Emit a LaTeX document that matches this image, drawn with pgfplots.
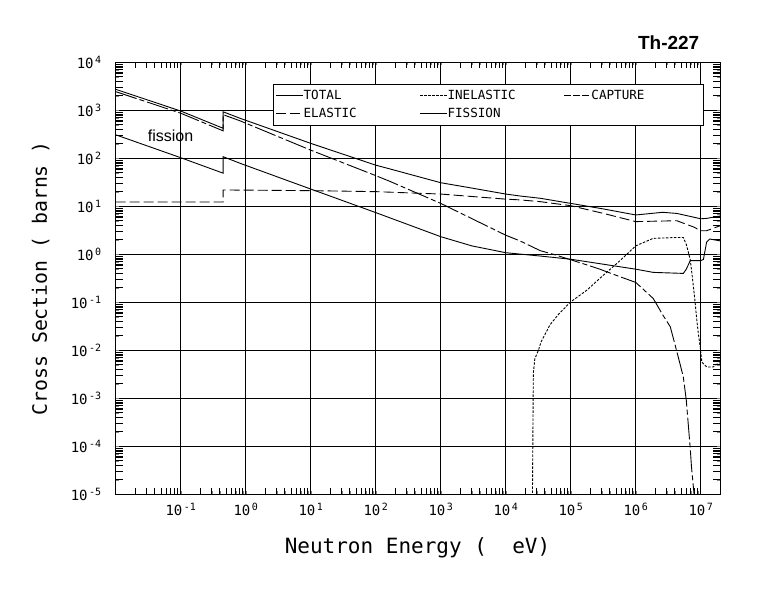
\documentclass[border=0pt]{standalone}
\usepackage{fontspec}
\setmainfont{Liberation Sans}
\setmonofont{DejaVu Sans Mono}
\usepackage{pgfplots}
\pgfplotsset{compat=1.18}

\newcommand{\tl}[1]{10\hspace{1.5pt}\raisebox{5pt}{\fontsize{10}{10}\selectfont #1}}

\begin{document}
\begin{tikzpicture}
\path[use as bounding box] (-115.7pt,-95.7pt) rectangle (664.3pt,494.3pt);
\begin{loglogaxis}[
  at={(0pt,0pt)}, anchor=south west,
  scale only axis, width=604.6pt, height=432pt,
  xmin=1e-2, xmax=2e7, ymin=1e-5, ymax=1e4,
  xtick={1e-1,1,1e1,1e2,1e3,1e4,1e5,1e6,1e7},
  xticklabels={\tl{-1},\tl{0},\tl{1},\tl{2},\tl{3},\tl{4},\tl{5},\tl{6},\tl{7}},
  ytick={1e-5,1e-4,1e-3,1e-2,1e-1,1,1e1,1e2,1e3,1e4},
  yticklabels={\tl{-5},\tl{-4},\tl{-3},\tl{-2},\tl{-1},\tl{0},\tl{1},\tl{2},\tl{3},\tl{4}},
  major tick length=0pt,
  grid=major,
  major grid style={black, line width=1.3pt},
  axis line style={line width=1.4pt},
  tick label style={font=\ttfamily\fontsize{14}{14}\selectfont},
  xticklabel style={yshift=-5pt},
  yticklabel style={xshift=-11pt},
  xlabel={Neutron Energy ( \ eV)},
  xlabel style={at={(axis description cs:0.4992,-0.1227)}, anchor=center, font=\ttfamily\fontsize{21}{21}\selectfont},
  ylabel={Cross Section ( barns )},
  ylabel style={at={(axis description cs:-0.124,0.5)}, anchor=center, font=\ttfamily\fontsize{19.8}{20}\selectfont},
  title={Th-227},
  title style={at={(axis description cs:0.9146,1.031)}, anchor=center, font=\bfseries\fontsize{19}{19}\selectfont},
  legend columns=3,
  legend cell align=left,
  legend style={at={(axis description cs:0.2607,0.9498)}, anchor=north west, draw=black, line width=0.9pt, fill=white,
    font=\ttfamily\fontsize{12.6}{13}\selectfont, inner xsep=2pt, inner ysep=6pt, row sep=7pt, nodes={inner sep=0pt}},
  legend image code/.code={\draw[#1, line width=0.9pt] (0pt,0pt) -- (27pt,0pt);},
]
% minor ticks on all four sides, pointing inward
\pgfplotsinvokeforeach{2e-2,3e-2,4e-2,5e-2,6e-2,7e-2,8e-2,9e-2,
    2e-1,3e-1,4e-1,5e-1,6e-1,7e-1,8e-1,9e-1,
    2,3,4,5,6,7,8,9,
    20,30,40,50,60,70,80,90,
    200,300,400,500,600,700,800,900,
    2e3,3e3,4e3,5e3,6e3,7e3,8e3,9e3,
    2e4,3e4,4e4,5e4,6e4,7e4,8e4,9e4,
    2e5,3e5,4e5,5e5,6e5,7e5,8e5,9e5,
    2e6,3e6,4e6,5e6,6e6,7e6,8e6,9e6}{
  \draw[black, line width=1.1pt] (axis cs:#1,1e-5) -- ++(0pt,6pt);
  \draw[black, line width=1.1pt] (axis cs:#1,1e4) -- ++(0pt,-6pt);
}
\pgfplotsinvokeforeach{2e-5,3e-5,4e-5,5e-5,6e-5,7e-5,8e-5,9e-5,
    2e-4,3e-4,4e-4,5e-4,6e-4,7e-4,8e-4,9e-4,
    2e-3,3e-3,4e-3,5e-3,6e-3,7e-3,8e-3,9e-3,
    2e-2,3e-2,4e-2,5e-2,6e-2,7e-2,8e-2,9e-2,
    2e-1,3e-1,4e-1,5e-1,6e-1,7e-1,8e-1,9e-1,
    2,3,4,5,6,7,8,9,
    20,30,40,50,60,70,80,90,
    200,300,400,500,600,700,800,900,
    2e3,3e3,4e3,5e3,6e3,7e3,8e3,9e3}{
  \draw[black, line width=1.1pt] (axis cs:1e-2,#1) -- ++(7pt,0pt);
  \draw[black, line width=1.1pt] (axis cs:2e7,#1) -- ++(-7pt,0pt);
}
% TOTAL
\addplot[black, line width=0.9pt] coordinates {
(1e-2,2740) (1e-1,966) (0.45,422) (0.45,930) (0.82,681) (10,205) (100,72) (166,60)
(1e3,31) (3e3,24) (1e4,18) (1.66e4,16.4) (3.4e4,14.7) (1e5,11.5) (3.2e5,8.8) (1e6,6.6)
(2.6e6,7.5) (4.3e6,7.1) (1e7,5.5) (1.23e7,5.6) (2e7,6.3)};
\addlegendentry{\makebox[116pt][l]{TOTAL}}
% INELASTIC
\addplot[black, line width=0.9pt, dash pattern=on 2.5pt off 1.5pt] coordinates {
(2.57e4,5e-6) (2.66e4,3.3e-3) (2.8e4,6.6e-3) (3.2e4,0.0102) (3.5e4,0.015) (4.8e4,0.034)
(6.4e4,0.055) (9.8e4,0.10) (1.78e5,0.18) (3.2e5,0.37) (5.75e5,0.74) (1e6,1.5) (1.86e6,2.15)
(4.3e6,2.24) (5.4e6,2.24) (6.0e6,1.6) (6.9e6,0.78) (7.5e6,0.30) (8.1e6,0.117) (8.7e6,0.043)
(9.2e6,0.022) (9.8e6,0.012) (1.04e7,0.0057) (1.23e7,0.0045) (1.55e7,0.0045) (1.86e7,0.0054) (2e7,0.0055)};
\addlegendentry{\makebox[116pt][l]{INELASTIC}}
% CAPTURE
\addplot[black, line width=0.9pt, dash pattern=on 22pt off 3pt on 5pt off 3pt, forget plot] coordinates {
(1e-2,2450) (1e-1,870) (0.45,373) (0.45,810) (0.82,603) (10,148) (100,43.6) (166,33)
(1e3,11.5) (1e4,2.5) (1.66e4,1.9) (3.4e4,1.19) (5.4e4,1.0) (1e5,0.77) (1.78e5,0.6) (2.8e5,0.49)
(5.75e5,0.34) (1e6,0.26) (1.86e6,0.12) (2.6e6,0.055) (3.4e6,0.031) (4.3e6,0.0093) (5.4e6,0.0028)
(6.0e6,9e-4) (6.9e6,9e-5) (7.2e6,3.8e-5) (7.9e6,1e-5) (8.2e6,3e-6)};
\addlegendimage{black, line width=0.9pt, dash pattern=on 7pt off 2pt}
\addlegendentry{\makebox[110pt][l]{CAPTURE}}
% ELASTIC
\addplot[black, line width=0.9pt, dash pattern=on 10pt off 4pt] coordinates {
(1e-2,12.3) (0.45,12.3) (0.45,21.9) (10,21.2) (100,20.2) (1e3,18) (1e4,14.1) (1.66e4,13.6)
(3.4e4,12.5) (1e5,10.3) (3.2e5,7.1) (1e6,4.8) (2e6,4.9) (4.3e6,5.0) (7.8e6,3.7) (1e7,3.1)
(1.23e7,3.1) (2e7,3.95)};
\addlegendentry{\makebox[116pt][l]{ELASTIC}}
% FISSION
\addplot[black, line width=0.9pt] coordinates {
(1e-2,309) (1e-1,103) (0.45,49) (0.45,108) (0.82,78.7) (10,22.9) (100,7.4) (1e3,2.33)
(3e3,1.5) (1e4,1.08) (3.4e4,0.92) (1e5,0.79) (1e6,0.49) (1.86e6,0.42) (5.4e6,0.40)
(6.0e6,0.49) (6.9e6,0.74) (1e7,0.74) (1.1e7,0.78) (1.23e7,1.78) (1.38e7,2.08) (2e7,1.9)};
\addlegendentry{\makebox[116pt][l]{FISSION}}
\node[anchor=base, font=\fontsize{16}{16}\selectfont] at (axis cs:0.0697,222) {fission};
\end{loglogaxis}
\end{tikzpicture}
\end{document}
